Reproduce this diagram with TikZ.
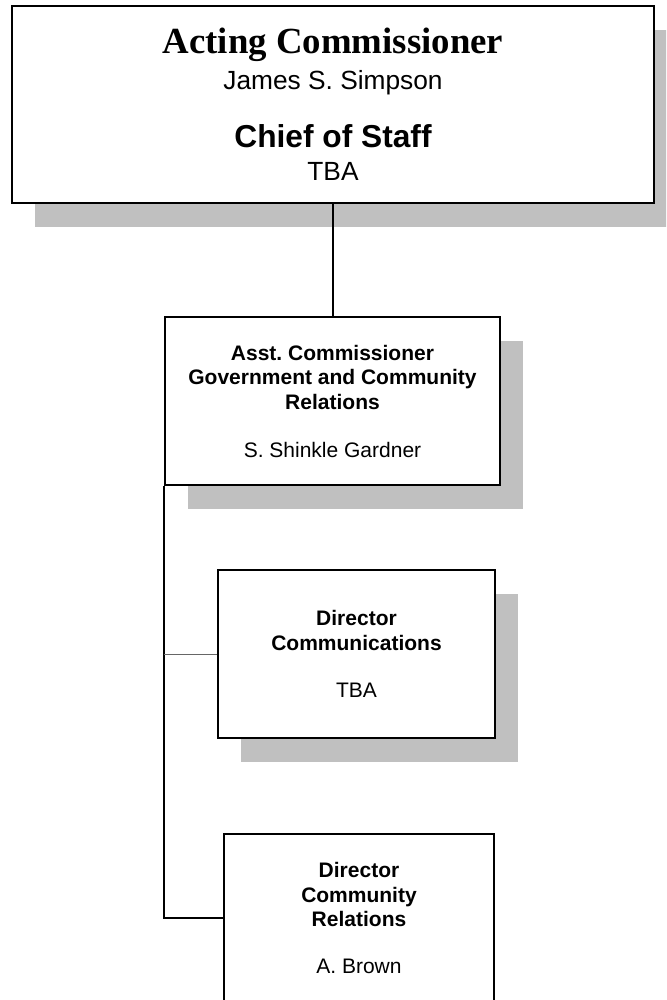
\documentclass[tikz,border=0pt]{standalone}
\usepackage{fontspec}
\setmainfont{Liberation Sans}
\newfontfamily\timesfont{Liberation Serif}
\usetikzlibrary{shadows}

\definecolor{shadowgray}{RGB}{192,192,192}

\tikzset{
  orgbox/.style={draw, line width=2pt, fill=white, align=flush center, inner sep=0pt,
    execute at begin node={\spaceskip=0pt\xspaceskip=0pt\frenchspacing}},
  boxshadow/.style={drop shadow={shadow xshift=23pt, shadow yshift=-24pt, fill=shadowgray, opacity=1}},
  smalltext/.style={font=\fontsize{21}{24.5}\selectfont},
  link/.style={line width=1.3pt},
}

\begin{document}
\begin{tikzpicture}[x=1pt, y=-1pt]
    \useasboundingbox (0,0) rectangle (666,1000);
    \clip (0,0) rectangle (666,1000);

    % Commissioner box
    \node[orgbox, boxshadow, minimum width=642pt, minimum height=197pt, text width=620pt] (acting) at (333,104.5)
      {{\timesfont\bfseries\fontsize{36.8}{40}\selectfont Acting Commissioner\par}
       {\fontsize{26.3}{36}\selectfont James S. Simpson\par}
       {\bfseries\fontsize{31.7}{58}\selectfont Chief of Staff\par}
       {\fontsize{26.3}{33}\selectfont TBA\par}};

    % Assistant commissioner
    \node[orgbox, boxshadow, smalltext, minimum width=335pt, minimum height=168pt, text width=320pt] (gcr) at (332.5,401)
      {\bfseries Asst. Commissioner\\ Government and Community\\ Relations\par
       \mdseries\fontsize{21}{48}\selectfont S. Shinkle Gardner\par};

    % Directors
    \node[orgbox, boxshadow, smalltext, minimum width=277pt, minimum height=168pt, text width=260pt] (dcomm) at (356.5,654)
      {\bfseries Director\\ Communications\par
       \mdseries\fontsize{21}{47}\selectfont TBA\par};
    \node[orgbox, smalltext, minimum width=270pt, minimum height=168pt, text width=250pt] (dcr) at (359,918)
      {\bfseries Director\\ Community\\ Relations\par
       \mdseries\fontsize{21}{47}\selectfont A. Brown\par};

    % Connectors
    \draw[link] (acting.south) -- (acting.south |- gcr.north);
    \draw[link] (gcr.south west) |- (dcr.west);
    \draw[line width=0.8pt, black!60] (gcr.south west |- dcomm.west) -- (dcomm.west);
\end{tikzpicture}
\end{document}
